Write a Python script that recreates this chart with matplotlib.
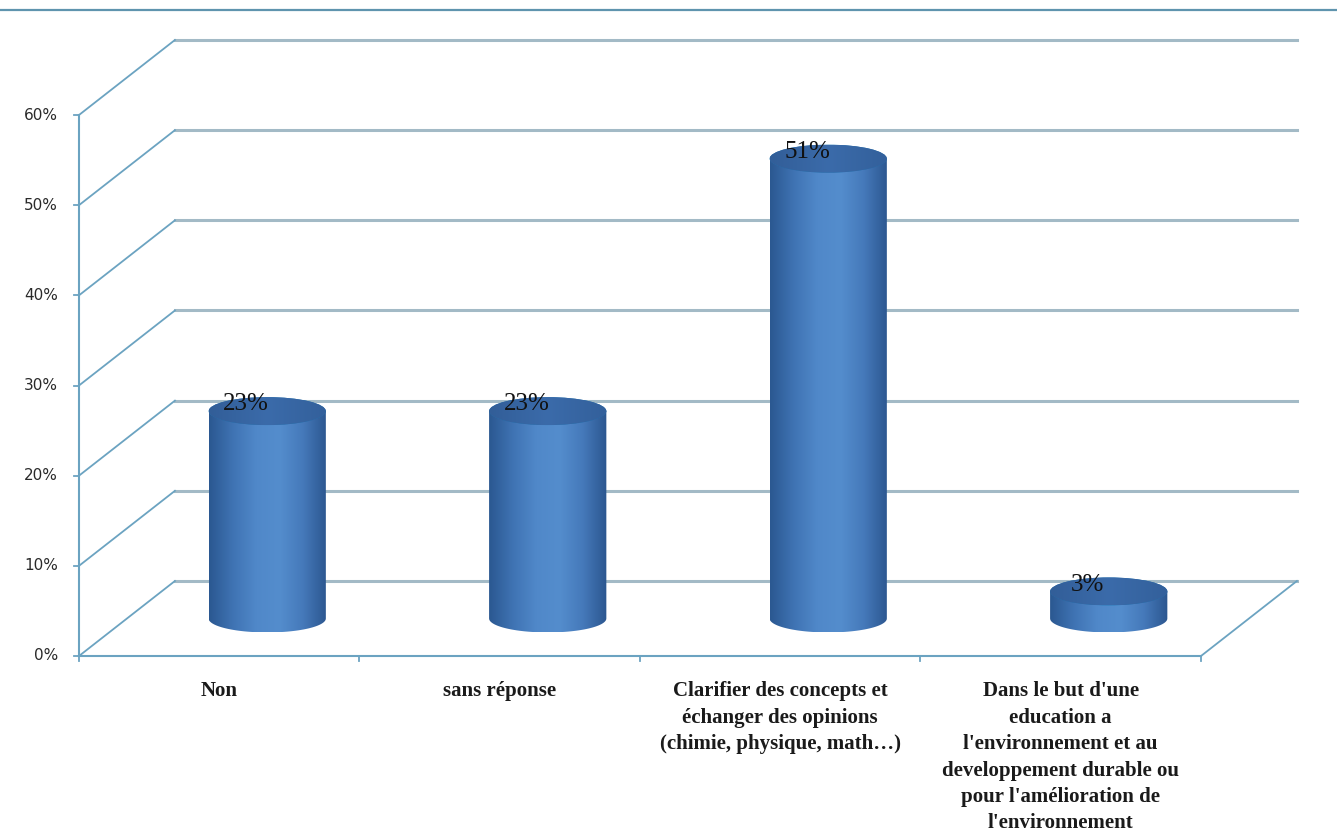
import numpy as np
import matplotlib
matplotlib.use("Agg")
import matplotlib.pyplot as plt
from matplotlib.patches import Ellipse, Polygon
from matplotlib.colors import LinearSegmentedColormap
from matplotlib.lines import Line2D

categories = ["Non",
              "sans réponse",
              "Clarifier des concepts et\néchanger des opinions\n(chimie, physique, math…)",
              "Dans le but d'une\neducation a\nl'environnement et au\ndeveloppement durable ou\npour l'amélioration de\nl'environnement"]
values = [23, 23, 51, 3]
yticks = [0, 10, 20, 30, 40, 50, 60]
ytick_labels = [f"{t}%" for t in yticks]

# pseudo-3D geometry (data units)
DX, DY = 0.342, 8.32     # depth offset of back wall
RX, RY = 0.209, 1.55     # cylinder radius / ellipse half-height
GRID_C = "#a3bac6"
AXIS_C = "#6ba3c1"

body_cmap = LinearSegmentedColormap.from_list(
    "body", ["#2b5891", "#3f73b3", "#5088c9", "#548dcd", "#4579ba", "#2c5790"])
top_cmap = LinearSegmentedColormap.from_list("top", ["#325e98", "#3b6baa", "#33609b"])

W, H = 1337, 839
fig = plt.figure(figsize=(W / 100, H / 100), dpi=100)
ax = fig.add_axes([79 / W, 1 - 656 / H, 1122 / W, 541 / H])
ax.set_axis_off()
n = len(categories)

# top rule
fig.add_artist(Line2D([0, 1], [1 - 10 / H] * 2, color="#5f94ae", lw=1.6))

# back wall + left wall gridlines
for t in yticks:
    ax.plot([DX, n + DX], [t + DY, t + DY], color=GRID_C, lw=2.2, clip_on=False, zorder=1)
    ax.plot([0, DX], [t, t + DY], color=AXIS_C, lw=1.3, clip_on=False, zorder=1)
    ax.plot([-0.018, 0], [t, t], color=AXIS_C, lw=1.3, clip_on=False)
    ax.text(-0.075, t, ytick_labels[t // 10], ha="right", va="center",
            fontsize=11, color="#2a2a2a", family="DejaVu Sans")

# floor and axes
ax.plot([0, 0], [0, yticks[-1]], color=AXIS_C, lw=1.5, clip_on=False, zorder=2)
ax.plot([0, n], [0, 0], color=AXIS_C, lw=1.5, clip_on=False, zorder=2)
ax.plot([n, n + DX], [0, DY], color=AXIS_C, lw=1.3, clip_on=False, zorder=2)
for i in range(n + 1):
    ax.plot([i, i], [0, -0.6], color=AXIS_C, lw=1.3, clip_on=False)

# cylinders
th = np.linspace(np.pi, 2 * np.pi, 60)
for i, v in enumerate(values):
    cx = i + 0.5 + DX / 2
    base = DY / 2
    top = base + v
    pts = np.column_stack([cx + RX * np.cos(th), base + RY * np.sin(th)])
    pts = np.vstack([pts, [cx + RX, top], [cx - RX, top]])
    body = Polygon(pts, closed=True, facecolor="none", edgecolor="none",
                   transform=ax.transData)
    ax.add_patch(body)
    ramp = np.linspace(0, 1, 200)[None, :]
    im = ax.imshow(ramp, cmap=body_cmap, aspect="auto", zorder=3,
                   extent=(cx - RX, cx + RX, base - RY, top))
    im.set_clip_path(body)
    cap = Ellipse((cx, top), 2 * RX, 2 * RY, transform=ax.transData, zorder=4)
    ax.add_patch(cap)
    im2 = ax.imshow(ramp, cmap=top_cmap, aspect="auto", zorder=4,
                    extent=(cx - RX, cx + RX, top - RY, top + RY))
    im2.set_clip_path(cap)
    ax.text(cx - 0.075, top + 0.75, f"{v}%", ha="center", va="center",
            fontsize=18, family="Liberation Serif", color="#111111", zorder=5)

# category labels
for i, c in enumerate(categories):
    ax.text(i + 0.5, -2.8, c, ha="center", va="top", fontsize=15,
            fontweight="bold", family="Liberation Serif", color="#1a1a1a",
            linespacing=1.43)

ax.set_xlim(0, n)
ax.set_ylim(0, yticks[-1])
fig.savefig("out.png", dpi=100)
